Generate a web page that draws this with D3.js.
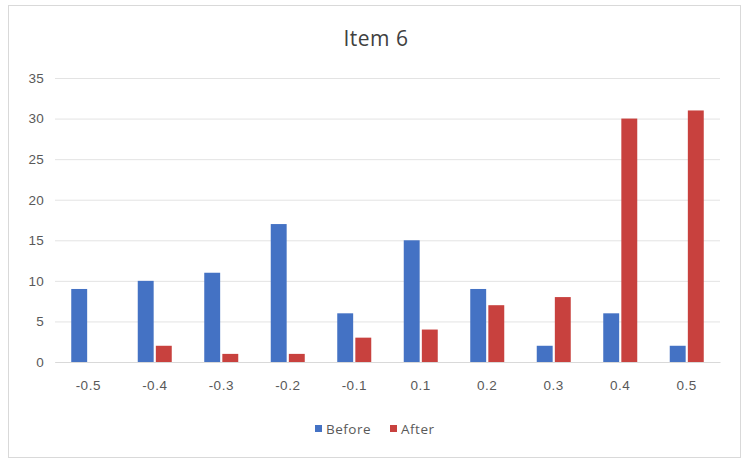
<!DOCTYPE html>
<html>
<head>
<meta charset="utf-8">
<script src="https://cdn.jsdelivr.net/npm/d3@7/dist/d3.min.js"></script>
<style>
  html, body { margin: 0; padding: 0; background: #fff; }
  svg { display: block; font-family: "Open Sans", "Noto Sans", sans-serif; }
</style>
</head>
<body>
<svg id="chart" width="748" height="460"></svg>
<script>
// Score change buckets and counts before / after
const categories = ["-0.5", "-0.4", "-0.3", "-0.2", "-0.1", "0.1", "0.2", "0.3", "0.4", "0.5"];
const seriesNames = ["Before", "After"];
const beforeValues = [9, 10, 11, 17, 6, 15, 9, 2, 6, 2];
const afterValues = [0, 2, 1, 1, 3, 4, 7, 8, 30, 31];
const yTicks = [0, 5, 10, 15, 20, 25, 30, 35];
const colors = ["#4472C4", "#C8413E"];

const svg = d3.select("#chart");
const plot = { left: 55, right: 720, top: 78, bottom: 362 };

// Outer frame
svg.append("rect")
  .attr("x", 8.5).attr("y", 5.5)
  .attr("width", 732).attr("height", 452)
  .attr("fill", "#fff").attr("stroke", "#d9d9d9").attr("stroke-width", 1);

// Title
svg.append("text")
  .attr("x", 376).attr("y", 46)
  .attr("text-anchor", "middle")
  .attr("font-size", 21)
  .attr("letter-spacing", 0.5)
  .attr("fill", "#404040")
  .text("Item 6");

const x = d3.scaleBand().domain(categories).range([plot.left, plot.right]).paddingInner(0).paddingOuter(0);
const inner = d3.scaleBand().domain(seriesNames).range([0, 34]).paddingInner(0.12);
const y = d3.scaleLinear().domain([0, 35]).range([plot.bottom, plot.top]);

// Gridlines and y labels
const yAxis = d3.axisLeft(y).tickValues(yTicks).tickSize(-(plot.right - plot.left)).tickPadding(11);
const gy = svg.append("g").attr("transform", `translate(${plot.left},0)`).call(yAxis);
gy.select(".domain").remove();
gy.selectAll(".tick line").attr("stroke", "#e3e3e3");
gy.selectAll(".tick text").attr("font-size", 13.5).attr("letter-spacing", 0.3).attr("fill", "#595959");

// Category axis
const xAxis = d3.axisBottom(x).tickSize(0).tickPadding(18);
const gx = svg.append("g").attr("transform", `translate(0,${plot.bottom})`).call(xAxis);
gx.select(".domain").attr("stroke", "#d9d9d9");
gx.selectAll(".tick text").attr("font-size", 13.5).attr("letter-spacing", 0.5).attr("fill", "#595959");

// Bars
const series = [beforeValues, afterValues];
series.forEach((vals, si) => {
  svg.append("g").selectAll("rect")
    .data(vals)
    .join("rect")
    .attr("x", (d, i) => x(categories[i]) + x.bandwidth() / 2 - 17 + inner(seriesNames[si]))
    .attr("width", inner.bandwidth())
    .attr("y", d => y(d))
    .attr("height", d => y(0) - y(d))
    .attr("fill", colors[si]);
});

// Legend
const legend = svg.append("g");
const legendItems = [{ name: "Before", x: 315 }, { name: "After", x: 390 }];
legendItems.forEach((it, i) => {
  legend.append("rect")
    .attr("x", it.x).attr("y", 425)
    .attr("width", 7).attr("height", 7)
    .attr("fill", colors[i]);
  legend.append("text")
    .attr("x", it.x + 11).attr("y", 434)
    .attr("font-size", 13.5).attr("letter-spacing", 0.5).attr("fill", "#595959")
    .text(it.name);
});
</script>
</body>
</html>
